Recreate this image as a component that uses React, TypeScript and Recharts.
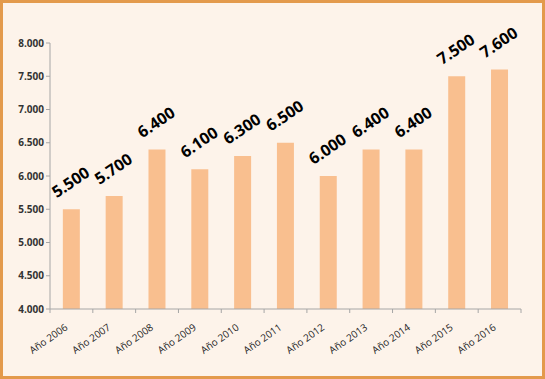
import React from "react";
import { BarChart, Bar, XAxis, YAxis, LabelList } from "recharts";

// Categories and values
const years = [
  "Año 2006",
  "Año 2007",
  "Año 2008",
  "Año 2009",
  "Año 2010",
  "Año 2011",
  "Año 2012",
  "Año 2013",
  "Año 2014",
  "Año 2015",
  "Año 2016",
];
const values = [5500, 5700, 6400, 6100, 6300, 6500, 6000, 6400, 6400, 7500, 7600];
const yTicks = [4000, 4500, 5000, 5500, 6000, 6500, 7000, 7500, 8000];

const data = years.map((name, i) => ({ name, value: values[i] }));

const W = 545;
const H = 379;
const M = { top: 43, right: 24, left: 0, bottom: 0 };
const Y_W = 50;
const X_H = 70;
const plotW = W - M.left - M.right - Y_W;
const band = plotW / years.length;

// 5500 -> "5.500"
const fmt3 = (v: number) => {
  const s = String(Math.round(v));
  return s.slice(0, -3) + "." + s.slice(-3);
};

const FONT = "'Open Sans', 'Liberation Sans', sans-serif";

function XTick(props: any) {
  const { x, y, payload, index } = props;
  const last = index === years.length - 1;
  const ax = x - 3;
  const ay = y + 12;
  return (
    <g>
      <line x1={x - band / 2} x2={x - band / 2} y1={y - 8} y2={y - 4} stroke="#a6a6a6" />
      {last && (
        <line x1={x + band / 2} x2={x + band / 2} y1={y - 8} y2={y - 4} stroke="#a6a6a6" />
      )}
      <text
        x={ax}
        y={ay}
        textAnchor="end"
        fontSize={10}
        fontFamily={FONT}
        fill="#222"
        transform={`rotate(-35, ${ax}, ${ay})`}
      >
        {payload.value}
      </text>
    </g>
  );
}

function ValueLabel(props: any) {
  const { x, y, width, value } = props;
  const cx = x + width / 2;
  const cy = y - 26;
  return (
    <text
      x={cx}
      y={cy}
      textAnchor="middle"
      dominantBaseline="middle"
      fontSize={16}
      fontWeight="bold"
      fontFamily={FONT}
      fill="#000"
      transform={`rotate(-34, ${cx}, ${cy})`}
    >
      {fmt3(value)}
    </text>
  );
}

export default function App() {
  return (
    <div
      style={{
        position: "absolute",
        left: 0,
        top: 0,
        width: W,
        height: H,
        background: "#fdf3ea",
        border: "3px solid #e39a4c",
        boxSizing: "border-box",
      }}
    >
      <div style={{ position: "absolute", left: -3, top: -3 }}>
        <BarChart width={W} height={H} data={data} margin={M} barCategoryGap="30%">
          <XAxis
            dataKey="name"
            height={X_H}
            interval={0}
            tick={<XTick />}
            tickLine={false}
            axisLine={{ stroke: "#a6a6a6" }}
          />
          <YAxis
            width={Y_W}
            domain={[4000, 8000]}
            ticks={yTicks}
            interval={0}
            tickFormatter={(v: number) => fmt3(v)}
            tickSize={4}
            tickLine={{ stroke: "#a6a6a6" }}
            axisLine={{ stroke: "#a6a6a6" }}
            tick={{ fontSize: 10, fontWeight: "bold", fill: "#333", fontFamily: FONT }}
            allowDataOverflow
          />
          <Bar dataKey="value" fill="#f9bf8f" isAnimationActive={false}>
            <LabelList dataKey="value" content={<ValueLabel />} />
          </Bar>
        </BarChart>
      </div>
    </div>
  );
}
